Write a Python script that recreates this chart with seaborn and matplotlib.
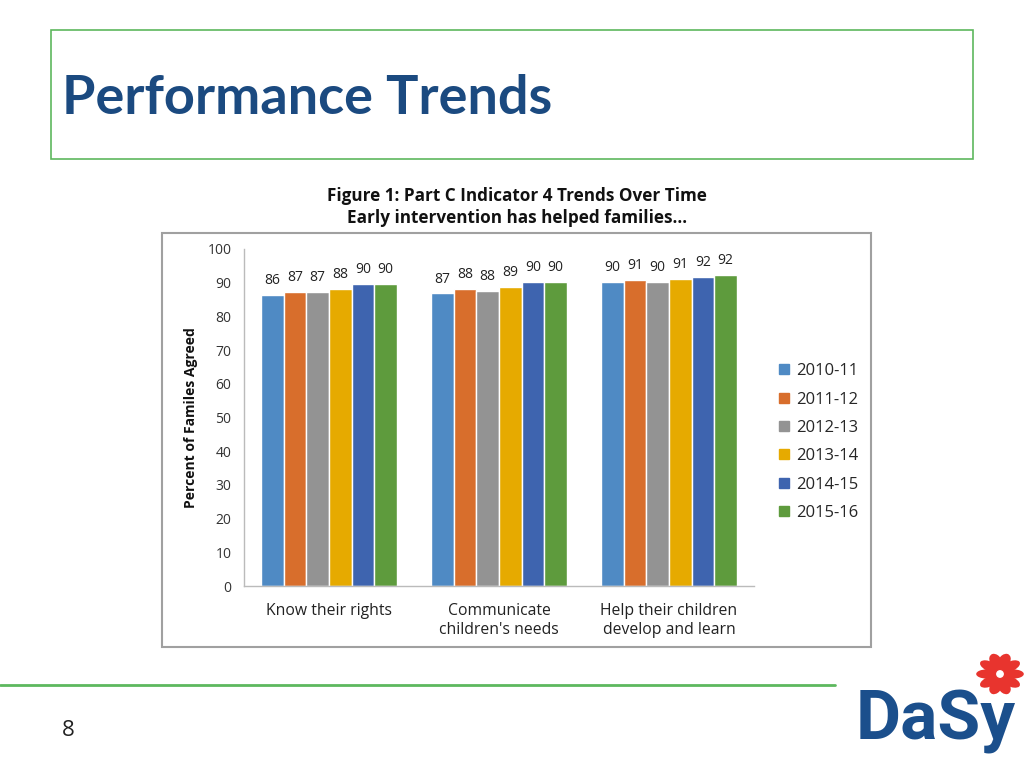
import numpy as np
import pandas as pd
import matplotlib
matplotlib.use("Agg")
import matplotlib.pyplot as plt
import seaborn as sns
from matplotlib.patches import Rectangle, Ellipse
from matplotlib.lines import Line2D

# ---- data ----
categories = ["Know their rights", "Communicate\nchildren's needs", "Help their children\ndevelop and learn"]
years = ["2010-11", "2011-12", "2012-13", "2013-14", "2014-15", "2015-16"]
vals_2010 = [86.4, 86.8, 90.1]
vals_2011 = [87.3, 88.0, 90.8]
vals_2012 = [87.3, 87.6, 90.2]
vals_2013 = [88.2, 88.8, 91.0]
vals_2014 = [89.6, 90.1, 91.8]
vals_2015 = [89.5, 90.1, 92.2]
labels_2010 = [86, 87, 90]
labels_2011 = [87, 88, 91]
labels_2012 = [87, 88, 90]
labels_2013 = [88, 89, 91]
labels_2014 = [90, 90, 92]
labels_2015 = [90, 90, 92]
y_ticks = list(range(0, 101, 10))

series = [vals_2010, vals_2011, vals_2012, vals_2013, vals_2014, vals_2015]
series_labels = [labels_2010, labels_2011, labels_2012, labels_2013, labels_2014, labels_2015]
colors = ["#4F8AC4", "#D86E2C", "#939393", "#E6AA00", "#3E64AF", "#5E9B3D"]

rows = []
for yr, vals in zip(years, series):
    for cat, v in zip(categories, vals):
        rows.append({"category": cat, "year": yr, "value": v})
df = pd.DataFrame(rows)

sns.set_style("white")
plt.rcParams["font.family"] = ["Open Sans", "DejaVu Sans"]

W, H = 1024, 768
fig = plt.figure(figsize=(W / 100, H / 100), dpi=100)

def fx(x):
    return x / W

def fy(y):
    return 1 - y / H

# slide title box
fig.patches.append(Rectangle((fx(51), fy(159)), fx(973) - fx(51), fy(30) - fy(159),
                             transform=fig.transFigure, fill=False, edgecolor="#5DB85E", linewidth=1.2))
fig.text(fx(62), fy(98), "Performance Trends", fontsize=39, fontweight="bold",
         color="#1B4A80", family=["Lato", "DejaVu Sans"], ha="left", va="center")

# chart titles
fig.text(fx(517), fy(196), "Figure 1: Part C Indicator 4 Trends Over Time", fontsize=12.3,
         fontweight="bold", color="#111111", ha="center", va="center")
fig.text(fx(517), fy(218), "Early intervention has helped families...", fontsize=12.3,
         fontweight="bold", color="#111111", ha="center", va="center")

# chart picture frame
fig.patches.append(Rectangle((fx(162), fy(647)), fx(871) - fx(162), fy(233) - fy(647),
                             transform=fig.transFigure, fill=False, edgecolor="#A0A0A0", linewidth=1.5))

# axes
ax = fig.add_axes([fx(244), fy(586), fx(754) - fx(244), fy(249) - fy(586)])
sns.barplot(data=df, x="category", y="value", hue="year", hue_order=years,
            palette=colors, width=0.8, gap=0, saturation=1, ax=ax, legend=False,
            errorbar=None)

for cont, labs in zip(ax.containers, series_labels):
    ax.bar_label(cont, labels=[str(l) for l in labs], padding=5, fontsize=10, color="#222222")

ax.set_ylim(0, 100)
ax.set_xlim(-0.5, 2.5)
ax.set_yticks(y_ticks)
ax.set_yticklabels([str(t) for t in y_ticks], fontsize=10, color="#333333")
ax.set_xticks(range(len(categories)))
ax.set_xticklabels(categories, fontsize=11.3, color="#222222", linespacing=1.3)
ax.set_xticks([-0.5, 0.5, 1.5, 2.5], minor=True)
ax.tick_params(axis="x", which="major", length=0, pad=12)
ax.tick_params(axis="x", which="minor", length=5, color="#BBBBBB", direction="out")
ax.tick_params(axis="y", which="major", length=5, color="#BBBBBB", direction="out", pad=4)
for s in ["top", "right"]:
    ax.spines[s].set_visible(False)
for s in ["left", "bottom"]:
    ax.spines[s].set_color("#BBBBBB")
    ax.spines[s].set_linewidth(1.0)
ax.set_xlabel("")
ax.set_ylabel("")
ax.grid(False)

fig.text(fx(191), fy(418), "Percent of Familes Agreed", rotation=90, fontsize=10,
         fontweight="bold", color="#111111", ha="center", va="center")

# legend
handles = [Line2D([0], [0], marker="s", linestyle="none", markersize=7,
                  markerfacecolor=c, markeredgecolor=c) for c in colors]
ax.legend(handles, years, loc="upper left", bbox_to_anchor=(fx(771), fy(355)),
          bbox_transform=fig.transFigure, frameon=False, fontsize=12,
          handlelength=0.6, handletextpad=0.4, labelspacing=0.74, borderpad=0)

# footer
fig.add_artist(Line2D([0, fx(835)], [fy(685), fy(685)], transform=fig.transFigure,
                      color="#5DB85E", linewidth=2))
fig.text(fx(68), fy(731), "8", fontsize=16, color="#222222", ha="center", va="center")

# logo
fig.text(fx(856), fy(722), "DaSy", fontsize=50, fontweight="bold", color="#1B4F8C",
         family=["Roboto", "DejaVu Sans"], ha="left", va="center")
cx, cy = fx(1000), fy(674)
for ang in np.arange(0, 360, 36):
    r = 0.017
    ex = cx + r * np.cos(np.deg2rad(ang)) * H / W
    ey = cy + r * np.sin(np.deg2rad(ang))
    fig.patches.append(Ellipse((ex, ey), 0.028 * H / W, 0.012, angle=ang,
                               transform=fig.transFigure, facecolor="#E8342E", edgecolor="none"))
fig.patches.append(Ellipse((cx, cy), 0.012 * H / W, 0.012, transform=fig.transFigure,
                           facecolor="white", edgecolor="#E8342E", linewidth=1))

fig.savefig("out.png", dpi=100)
